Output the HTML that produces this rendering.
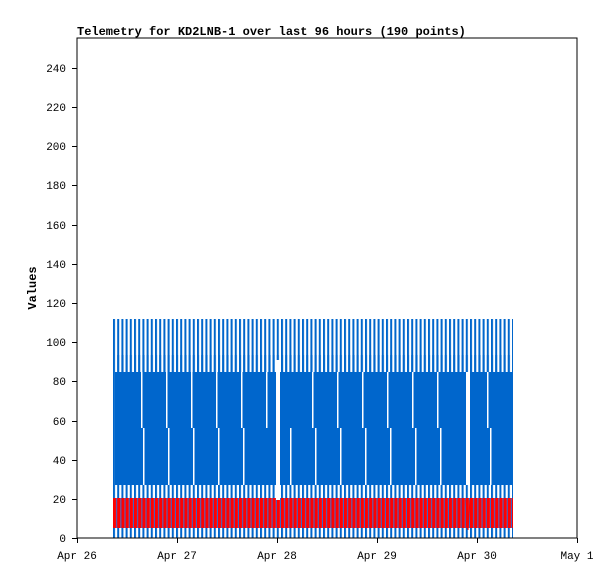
<!DOCTYPE html>
<html><head><style>body{margin:0;background:#fff}</style></head><body>
<svg width="615" height="579" xmlns="http://www.w3.org/2000/svg" font-family="Liberation Mono, monospace">
<defs>
<pattern id="bs" x="113" y="0" width="4.2" height="600" patternUnits="userSpaceOnUse"><rect x="0" y="0" width="2" height="600" fill="#0066cc"/></pattern>
<pattern id="rs" x="113" y="0" width="4.2" height="600" patternUnits="userSpaceOnUse"><rect x="0" y="0" width="3.2" height="600" fill="#ff0000"/><rect x="3.2" y="0" width="1" height="600" fill="#3366cc"/></pattern>
</defs>
<rect width="615" height="579" fill="#fff"/>
<text x="77" y="35" font-size="12" font-weight="bold">Telemetry for KD2LNB-1 over last 96 hours (190 points)</text>
<rect x="113" y="319" width="400" height="219" fill="url(#bs)"/>
<rect x="115" y="372" width="397" height="113" fill="#0066cc"/>
<rect x="117" y="355" width="394" height="17" fill="url(#bs)" opacity="0.9"/>
<rect x="113" y="498" width="400" height="30" fill="url(#rs)"/>
<g fill="#fff">
<rect x="141" y="372" width="1.5" height="56"/><rect x="166" y="372" width="1.5" height="56"/><rect x="191" y="372" width="1.5" height="56"/><rect x="216" y="372" width="1.5" height="56"/><rect x="241" y="372" width="1.5" height="56"/><rect x="266" y="372" width="1.5" height="56"/>
<rect x="143" y="428" width="1.5" height="57"/><rect x="168" y="428" width="1.5" height="57"/><rect x="193" y="428" width="1.5" height="57"/><rect x="218" y="428" width="1.5" height="57"/><rect x="243" y="428" width="1.5" height="57"/>
<rect x="312" y="372" width="1.5" height="56"/><rect x="337" y="372" width="1.5" height="56"/><rect x="362" y="372" width="1.5" height="56"/><rect x="387" y="372" width="1.5" height="56"/><rect x="412" y="372" width="1.5" height="56"/><rect x="437" y="372" width="1.5" height="56"/><rect x="487" y="372" width="1.5" height="56"/>
<rect x="290" y="428" width="1.5" height="57"/><rect x="315" y="428" width="1.5" height="57"/><rect x="340" y="428" width="1.5" height="57"/><rect x="365" y="428" width="1.5" height="57"/><rect x="390" y="428" width="1.5" height="57"/><rect x="415" y="428" width="1.5" height="57"/><rect x="440" y="428" width="1.5" height="57"/><rect x="490" y="428" width="1.5" height="57"/>
<rect x="276" y="360" width="4" height="140"/>
<rect x="466" y="372" width="4" height="113"/>
</g>
<polyline points="466,500 468,530 470,500" fill="none" stroke="#ff0000" stroke-width="1"/>
<rect x="77" y="38" width="500" height="500" fill="none" stroke="#000" stroke-width="1"/>
<g stroke="#000">
<line x1="72" y1="538.5" x2="77" y2="538.5"/><line x1="72" y1="499.5" x2="77" y2="499.5"/><line x1="72" y1="460.5" x2="77" y2="460.5"/><line x1="72" y1="421.5" x2="77" y2="421.5"/><line x1="72" y1="381.5" x2="77" y2="381.5"/><line x1="72" y1="342.5" x2="77" y2="342.5"/><line x1="72" y1="303.5" x2="77" y2="303.5"/><line x1="72" y1="264.5" x2="77" y2="264.5"/><line x1="72" y1="225.5" x2="77" y2="225.5"/><line x1="72" y1="185.5" x2="77" y2="185.5"/><line x1="72" y1="146.5" x2="77" y2="146.5"/><line x1="72" y1="107.5" x2="77" y2="107.5"/><line x1="72" y1="68.5" x2="77" y2="68.5"/>
<line x1="77.5" y1="538" x2="77.5" y2="543"/><line x1="177.5" y1="538" x2="177.5" y2="543"/><line x1="277.5" y1="538" x2="277.5" y2="543"/><line x1="377.5" y1="538" x2="377.5" y2="543"/><line x1="477.5" y1="538" x2="477.5" y2="543"/><line x1="577.5" y1="538" x2="577.5" y2="543"/>
</g>
<g font-size="11" text-anchor="end">
<text x="66" y="542">0</text><text x="66" y="503">20</text><text x="66" y="464">40</text><text x="66" y="425">60</text><text x="66" y="385">80</text><text x="66" y="346">100</text><text x="66" y="307">120</text><text x="66" y="268">140</text><text x="66" y="229">160</text><text x="66" y="189">180</text><text x="66" y="150">200</text><text x="66" y="111">220</text><text x="66" y="72">240</text>
</g>
<g font-size="11" text-anchor="middle">
<text x="77" y="559">Apr 26</text><text x="177" y="559">Apr 27</text><text x="277" y="559">Apr 28</text><text x="377" y="559">Apr 29</text><text x="477" y="559">Apr 30</text><text x="577" y="559">May 1</text>
</g>
<text transform="translate(36,288) rotate(-90)" font-size="12" font-weight="bold" text-anchor="middle">Values</text>
</svg>
</body></html>
